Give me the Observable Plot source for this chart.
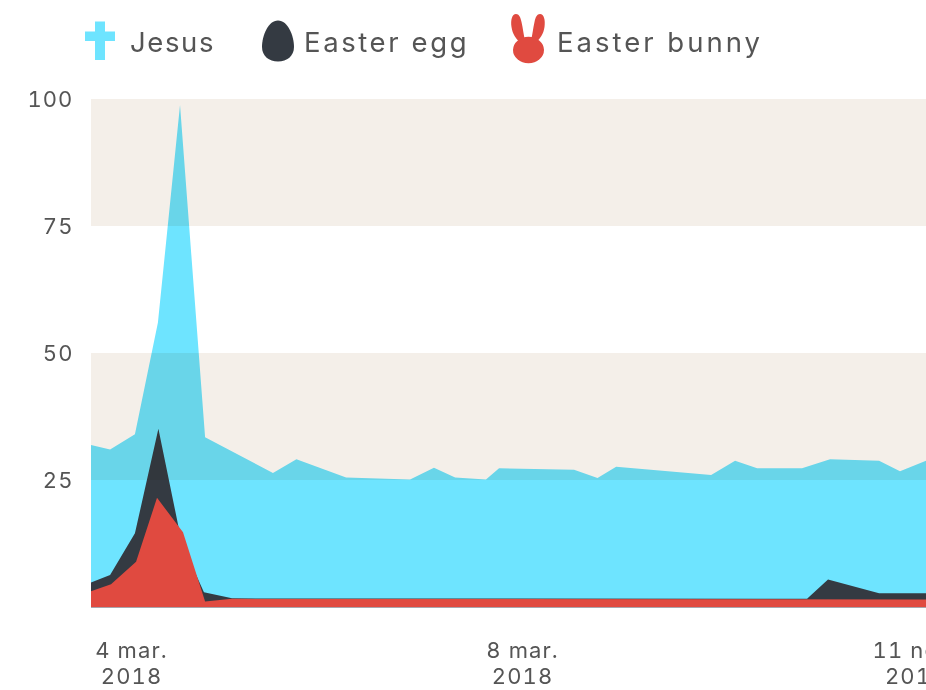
<!DOCTYPE html>
<html><head><meta charset="utf-8">
<script src="https://cdn.jsdelivr.net/npm/d3@7"></script>
<script src="https://cdn.jsdelivr.net/npm/@observablehq/plot@0.6"></script>
<style>
html,body{margin:0;padding:0;background:#fff;overflow:hidden}
#wrap{position:relative;width:926px;height:690px;font-family:Inter,sans-serif;color:#555}
#chart{position:absolute;left:0;top:0}
#chart svg{display:block;overflow:hidden}
#chart svg text{letter-spacing:1.100px}
.lg{position:absolute;top:26px;font-size:27.500px;line-height:32px;white-space:nowrap}
.ic{position:absolute;top:0;left:0}
</style></head><body>
<div id="wrap">
<svg class="ic" width="926" height="80" viewBox="0 0 926 80" style="z-index:2">
<path d="M95 21.500h10v10h10v9.500h-10v19h-10v-19h-10v-9.500h10z" fill="#6ee4ff"/>
<path d="M278 20.500C268 20.500 262 36 262 47C262 56 269 61.500 278 61.500C287 61.500 294 56 294 47C294 36 288 20.500 278 20.500Z" fill="#343a42"/>
<path d="M516 14C512 14 510.500 20 511.500 27C512.500 34 516 39 520 42L525 40C523.500 35 523 28 521.500 22C520.500 17 519 14 516 14Z" fill="#e04a40"/>
<path d="M540 14C544 14 545.500 20 544.500 27C543.500 34 540 39 536 42L531 40C532.500 35 533 28 534.500 22C535.500 17 537 14 540 14Z" fill="#e04a40"/>
<ellipse cx="528.500" cy="50" rx="15.500" ry="13.200" fill="#e04a40"/>
</svg>
<div class="lg" style="left:130px;letter-spacing:1.6px">Jesus</div>
<div class="lg" style="left:304px;letter-spacing:2.600px">Easter egg</div>
<div class="lg" style="left:557px;letter-spacing:3px">Easter bunny</div>
<div id="chart"></div>
</div>
<script>
// x positions are in weeks from the first sample
const jesusWeeks  = [0,0.83,1.91,2.91,3.87,4.96,7.91,8.93,11.09,13.87,14.91,15.83,17.17,17.74,21,22.02,22.83,26.96,28,28.96,30.91,32.13,34.26,35.17,36.3];
const jesusValues = [31.9,31,34,56,98.8,33.4,26.4,29.1,25.5,25.1,27.4,25.5,25.1,27.3,27,25.4,27.6,26,28.8,27.3,27.3,29.1,28.8,26.7,28.8];
const eggWeeks    = [0,0.83,1.91,2.93,3.83,4.39,4.91,6.13,31.13,32.04,34.26,36.3];
const eggValues   = [4.8,6.3,14.5,35.1,15.2,8.1,2.9,1.7,1.6,5.4,2.7,2.7];
const bunnyWeeks  = [0,0.87,1.96,2.87,4,4.96,6.13,36.3];
const bunnyValues = [3.1,4.5,8.9,21.5,14.7,1.1,1.6,1.5];
const bandFrom = [75,25];
const bandTo   = [100,50];
const yTicks = [25,50,75,100];
const xTicks = [1.74,18.74,35.83];
const xTickLabels = ["4 mar.\n2018","8 mar.\n2018","11 nov.\n2018"];
const cyan="#6ee4ff", dark="#343a42", red="#e04a40";
const toRows=(w,v)=>w.map((x,i)=>({x,y:v[i]}));
const font="Inter, sans-serif";

const chart = Plot.plot({
  width:926, height:690,
  marginLeft:91, marginRight:0, marginTop:99, marginBottom:83,
  style:{background:"transparent",fontFamily:font,color:"#555"},
  x:{domain:[0,36.3],range:[91,926]},
  y:{domain:[0,100],range:[607,99]},
  marks:[
    Plot.areaY(toRows(jesusWeeks,jesusValues),{x:"x",y:"y",fill:cyan}),
    Plot.areaY(toRows(eggWeeks,eggValues),{x:"x",y:"y",fill:dark}),
    Plot.areaY(toRows(bunnyWeeks,bunnyValues),{x:"x",y:"y",fill:red}),
    Plot.rectY(bandFrom.map((d,i)=>({y1:d,y2:bandTo[i]})),{y1:"y1",y2:"y2",x1:0,x2:36.3,fill:"#f4efe9",mixBlendMode:"multiply"}),
    Plot.ruleY([0],{stroke:"#a8a4ac",strokeWidth:1.2}),
    Plot.axisY({ticks:yTicks,tickSize:0,tickPadding:18,label:null,fontSize:22,fill:"#555",fontFamily:font}),
    Plot.axisX({ticks:xTicks,tickSize:0,tickPadding:31.500,label:null,fontSize:22,fill:"#555",fontFamily:font,lineHeight:1.2,
      tickFormat:d=>xTickLabels[xTicks.indexOf(d)]})
  ]
});
document.getElementById("chart").appendChild(chart);
</script>
</body></html>
